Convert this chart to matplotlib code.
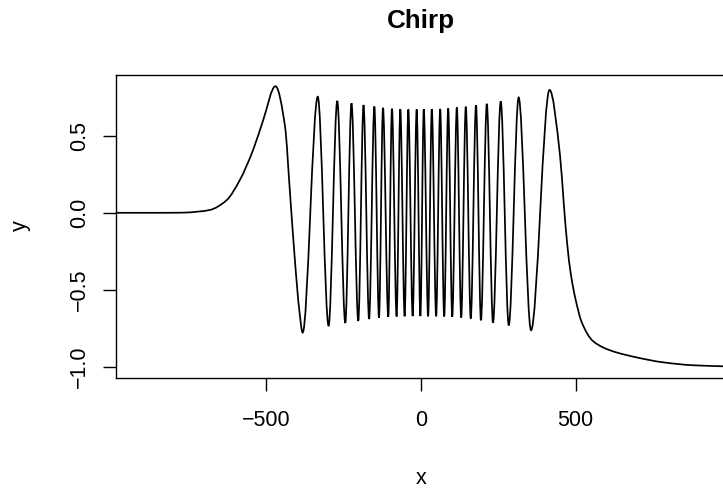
import numpy as np
import matplotlib
matplotlib.use('Agg')
import matplotlib.pyplot as plt
from matplotlib.path import Path
from matplotlib.patches import PathPatch

# values
left_tail_x = [-1000, -850, -770, -720, -684, -630, -587, -543, -511]
left_tail_y = [0.0, 0.0, 0.001, 0.008, 0.018, 0.08, 0.21, 0.41, 0.60]

lobe_x = [-440, -424, -408, -394, 450, 462]
lobe_y = [0.56, 0.13, -0.31, -0.63, 0.37, 0.06]

peak_x = [-471, -334, -271, -225, -186, -151, -123, -94, -67, -41, -14, 9,
          35, 62, 88, 116, 145, 178, 213, 258, 316, 416]
peak_y = [0.822, 0.754, 0.726, 0.711, 0.700, 0.690, 0.682, 0.676, 0.673, 0.671,
          0.671, 0.672, 0.673, 0.675, 0.678, 0.684, 0.689, 0.698, 0.708, 0.723,
          0.749, 0.798]

trough_x = [-383, -299, -245, -203, -168, -136, -106, -79, -53, -27, -2, 23,
            49, 75, 101, 130, 161, 194, 233, 284, 356]
trough_y = [-0.778, -0.735, -0.715, -0.702, -0.690, -0.681, -0.676, -0.673,
            -0.672, -0.671, -0.671, -0.672, -0.672, -0.673, -0.676, -0.680,
            -0.687, -0.698, -0.713, -0.731, -0.763]

right_tail_x = [473, 485, 500, 520, 555, 590, 630, 700, 780, 880, 1000]
right_tail_y = [-0.20, -0.40, -0.56, -0.71, -0.83, -0.875, -0.905, -0.94,
                -0.97, -0.99, -0.998]

x_ticks = [-500, 0, 500]
y_ticks = [-1.0, -0.5, 0.0, 0.5]


def smooth_path(x, y):
    # monotone cubic (Fritsch-Carlson slopes) drawn as bezier segments
    h = np.diff(x)
    d = np.diff(y) / h
    m = np.zeros_like(y)
    m[0], m[-1] = d[0], d[-1]
    for k in range(1, len(x) - 1):
        if d[k - 1] * d[k] > 0:
            w1 = 2 * h[k] + h[k - 1]
            w2 = h[k] + 2 * h[k - 1]
            m[k] = (w1 + w2) / (w1 / d[k - 1] + w2 / d[k])
    verts = [(x[0], y[0])]
    codes = [Path.MOVETO]
    for k in range(len(x) - 1):
        s = h[k] / 3
        verts += [(x[k] + s, y[k] + m[k] * s),
                  (x[k + 1] - s, y[k + 1] - m[k + 1] * s),
                  (x[k + 1], y[k + 1])]
        codes += [Path.CURVE4] * 3
    return Path(verts, codes)


def main():
    xs = np.array(left_tail_x + lobe_x + peak_x + trough_x + right_tail_x, dtype=float)
    ys = np.array(left_tail_y + lobe_y + peak_y + trough_y + right_tail_y, dtype=float)
    order = np.argsort(xs)
    xs, ys = xs[order], ys[order]

    plt.rcParams['font.family'] = ['Liberation Sans', 'DejaVu Sans']
    W, H = 723, 494
    fig = plt.figure(figsize=(W / 100, H / 100), dpi=100)
    ax = fig.add_axes([115.7 / W, (H - 377.7) / H, 610.6 / W, 302.7 / H])

    ax.add_patch(PathPatch(smooth_path(xs, ys), facecolor='none',
                           edgecolor='black', linewidth=1.25))

    ax.set_xlim(-988, 988)
    ax.set_ylim(-1.0708, 0.8948)
    ax.set_xticks(x_ticks)
    ax.set_xticklabels([str(v).replace('-', '\u2212') for v in x_ticks])
    ax.set_yticks(y_ticks)
    ax.set_yticklabels([f'{v:.1f}'.replace('-', '\u2212') for v in y_ticks])
    ax.tick_params(axis='both', direction='out', length=9.4, width=1.0,
                   labelsize=15.5, color='black')
    ax.tick_params(axis='x', pad=14)
    ax.tick_params(axis='y', pad=9)
    plt.setp(ax.get_yticklabels(), rotation=90, va='center', ha='right')
    for sp in ax.spines.values():
        sp.set_linewidth(1.0)

    fig.text(421 / W, 1 - 478 / H, 'x', ha='center', va='center', fontsize=15.5)
    fig.text(20 / W, 1 - 226 / H, 'y', ha='center', va='center', fontsize=15.5,
             rotation=90)
    fig.text(421 / W, 1 - 21 / H, 'Chirp', ha='center', va='center',
             fontsize=18.7, fontweight='bold')

    fig.savefig('out.png', dpi=100)
    plt.close(fig)


if __name__ == "__main__":
    main()
